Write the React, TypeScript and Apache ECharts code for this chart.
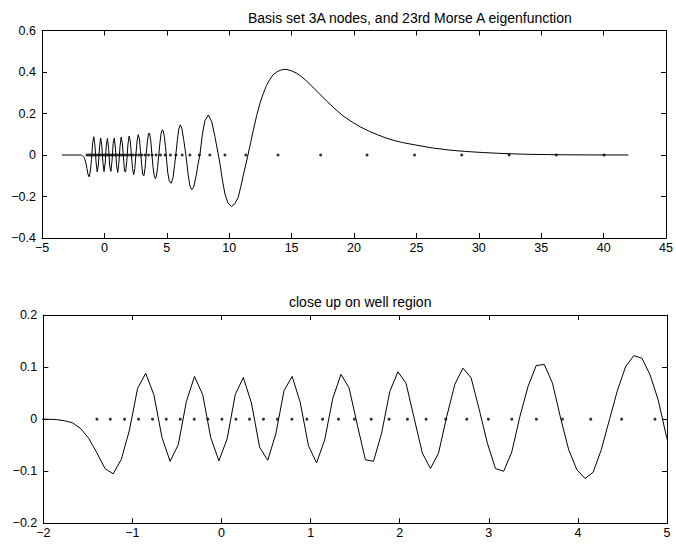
import React, { useEffect, useRef } from "react";
import * as echarts from "echarts";

// ---- data ----
const titleTop = "Basis set 3A nodes, and 23rd Morse A eigenfunction";
const titleBottom = "close up on well region";

// flat lead-in of the eigenfunction
const leadX = [-3.41, -2.9, -2.4, -2.128];
const leadY = [0, 0, 0, 0];

// sampled eigenfunction in the well region (visible as segments in the close-up)
const wellX = [
  -2.037, -1.946, -1.855, -1.764, -1.672, -1.581, -1.49, -1.398, -1.307, -1.216,
  -1.124, -1.033, -0.942, -0.851, -0.759, -0.668, -0.577, -0.485, -0.394, -0.303,
  -0.211, -0.12, -0.029, 0.063, 0.154, 0.245, 0.336, 0.428, 0.519, 0.61,
  0.702, 0.793, 0.884, 0.976, 1.067, 1.158, 1.249, 1.341, 1.432, 1.523,
  1.615, 1.706, 1.797, 1.889, 1.98, 2.071, 2.162, 2.254, 2.345, 2.436,
  2.528, 2.619, 2.71, 2.802, 2.893, 2.984, 3.075, 3.167, 3.258, 3.349,
  3.441, 3.532, 3.623, 3.715, 3.806, 3.897, 3.988, 4.08, 4.171, 4.262,
  4.354, 4.445, 4.536, 4.628, 4.719, 4.81, 4.901, 4.993, 5.084,
];
const wellY = [
  0, -0.0002, -0.0008, -0.003, -0.007, -0.018, -0.037, -0.065, -0.095, -0.105,
  -0.077, -0.021, 0.059, 0.088, 0.047, -0.035, -0.081, -0.049, 0.034, 0.082,
  0.047, -0.036, -0.08, -0.038, 0.047, 0.08, 0.031, -0.054, -0.079, -0.028,
  0.055, 0.082, 0.032, -0.051, -0.084, -0.04, 0.04, 0.086, 0.06, -0.01,
  -0.078, -0.081, -0.027, 0.053, 0.091, 0.069, 0.002, -0.065, -0.095, -0.065,
  0.005, 0.067, 0.098, 0.079, 0.018, -0.046, -0.095, -0.1, -0.063, 0.005,
  0.063, 0.103, 0.105, 0.069, 0.002, -0.059, -0.097, -0.114, -0.102, -0.059,
  -0.001, 0.056, 0.101, 0.122, 0.117, 0.085, 0.037, -0.033, -0.088,
];

// outer part of the eigenfunction
const tailX = [
  5.2, 5.35, 5.5, 5.62, 5.72, 5.85, 5.96, 6.08, 6.2, 6.35,
  6.53, 6.7, 6.85, 7.0, 7.15, 7.35, 7.5, 7.65, 7.85, 8.05,
  8.33, 8.6, 8.85, 9.1, 9.26, 9.45, 9.66, 9.9, 10.19, 10.45,
  10.72, 10.92, 11.12, 11.32, 11.52, 11.72, 11.92, 12.2, 12.45, 12.72,
  12.98, 13.25, 13.51, 13.85, 14.18, 14.45, 14.71, 15.05, 15.38, 15.75,
  16.17, 16.7, 17.24, 17.9, 18.57, 19.2, 19.9, 20.55, 21.23, 21.9,
  22.56, 23.2, 23.89, 24.95, 26.28, 27.6, 28.94, 30.3, 31.6, 33.0,
  34.26, 35.6, 36.9, 38.5, 40.2, 41.98,
];
const tailY = [
  -0.125, -0.136, -0.11, -0.05, 0.0, 0.075, 0.125, 0.145, 0.13, 0.075,
  0.0, -0.09, -0.15, -0.167, -0.155, -0.1, -0.045, 0.0, 0.1, 0.165,
  0.193, 0.16, 0.09, 0.01, -0.043, -0.12, -0.188, -0.232, -0.248, -0.235,
  -0.204, -0.155, -0.1, -0.048, 0.005, 0.06, 0.117, 0.19, 0.246, 0.295,
  0.334, 0.364, 0.386, 0.402, 0.41, 0.413, 0.411, 0.404, 0.395, 0.38,
  0.358, 0.327, 0.294, 0.255, 0.217, 0.185, 0.157, 0.134, 0.114, 0.097,
  0.082, 0.07, 0.06, 0.048, 0.034, 0.024, 0.017, 0.012, 0.008, 0.005,
  0.003, 0.002, 0.001, 0.0005, 0.0002, 0,
];

// basis set nodes (all on y = 0)
const nodeX = [
  -1.398, -1.248, -1.088, -0.931, -0.774, -0.62, -0.463, -0.306, -0.153, 0.005,
  0.162, 0.314, 0.471, 0.628, 0.79, 0.958, 1.134, 1.313, 1.492, 1.68,
  1.881, 2.087, 2.296, 2.517, 2.753, 2.995, 3.258, 3.534, 3.826, 4.144,
  4.491, 4.865, 5.29, 5.73, 6.23, 6.85, 7.6, 8.45, 9.66, 11.33,
  13.91, 17.33, 21.04, 24.85, 28.63, 32.43, 36.21, 40.04,
];
const nodeY = nodeX.map(() => 0);

// axis ranges / ticks
const topXRange = [-5, 45, 5];
const topYRange = [-0.4, 0.6, 0.2];
const botXRange = [-2, 5, 1];
const botYRange = [-0.2, 0.2, 0.1];

const FONT = "'Liberation Sans', Arial, Helvetica, sans-serif";

const fmt = (v: number) => {
  const s = String(parseFloat(v.toFixed(3)));
  return s.replace("-", "\u2212");
};

function axisPair(kind: "x" | "y", gridIndex: number, r: number[]) {
  const base = {
    type: "value",
    gridIndex,
    min: r[0],
    max: r[1],
    interval: r[2],
    splitLine: { show: false },
    axisLine: { show: true, onZero: false, lineStyle: { color: "#000", width: 1 } },
    axisTick: { show: true, inside: true, length: 5, lineStyle: { color: "#000", width: 1 } },
  };
  const first = {
    ...base,
    position: kind === "x" ? "bottom" : "left",
    axisLabel: {
      show: true,
      formatter: fmt,
      color: "#000",
      fontSize: 12.5,
      fontFamily: FONT,
      margin: kind === "x" ? 3 : 6,
      showMinLabel: true,
      showMaxLabel: true,
      interval: 0,
    },
  };
  const second = {
    ...base,
    position: kind === "x" ? "top" : "right",
    axisLabel: { show: false },
  };
  return [first, second];
}

export default function App() {
  const ref = useRef<HTMLDivElement>(null);
  useEffect(() => {
    if (!ref.current) return;
    const chart = echarts.init(ref.current, undefined, { renderer: "svg" });
    const curveX = [...leadX, ...wellX, ...tailX];
    const curveY = [...leadY, ...wellY, ...tailY];
    const curve = curveX.map((x, i) => [x, curveY[i]]);
    const nodes = nodeX.map((x, i) => [x, nodeY[i]]);
    const curveBottom = curve.filter((p) => p[0] >= -2.1 && p[0] <= 5.1);
    const nodesBottom = nodes.filter((p) => p[0] >= -2 && p[0] <= 5);

    chart.setOption({
      animation: false,
      backgroundColor: "#fff",
      title: [
        {
          text: titleTop,
          left: 243,
          top: 6,
          textStyle: { fontSize: 14, fontWeight: "normal", color: "#000", fontFamily: FONT },
        },
        {
          text: titleBottom,
          left: 284,
          top: 290,
          textStyle: { fontSize: 14, fontWeight: "normal", color: "#000", fontFamily: FONT },
        },
      ],
      grid: [
        { left: 42, right: 8.5, top: 30.5, height: 207.5, containLabel: false },
        { left: 43.3, right: 9, top: 315, height: 208.3, containLabel: false },
      ],
      xAxis: [...axisPair("x", 0, topXRange), ...axisPair("x", 1, botXRange)],
      yAxis: [...axisPair("y", 0, topYRange), ...axisPair("y", 1, botYRange)],
      series: [
        {
          type: "line",
          xAxisIndex: 0,
          yAxisIndex: 0,
          data: curve,
          showSymbol: false,
          symbol: "none",
          clip: true,
          lineStyle: { color: "#000", width: 1 },
          silent: true,
        },
        {
          type: "scatter",
          xAxisIndex: 0,
          yAxisIndex: 0,
          data: nodes,
          symbolSize: 3,
          itemStyle: { color: "#000" },
          silent: true,
        },
        {
          type: "line",
          xAxisIndex: 2,
          yAxisIndex: 2,
          data: curveBottom,
          showSymbol: false,
          symbol: "none",
          clip: true,
          lineStyle: { color: "#000", width: 1 },
          silent: true,
        },
        {
          type: "scatter",
          xAxisIndex: 2,
          yAxisIndex: 2,
          data: nodesBottom,
          symbolSize: 3,
          itemStyle: { color: "#000" },
          silent: true,
        },
      ],
    });
    return () => chart.dispose();
  }, []);
  return (
    <div
      ref={ref}
      style={{ position: "fixed", left: 0, top: 0, width: 676, height: 544, background: "#fff" }}
    />
  );
}
